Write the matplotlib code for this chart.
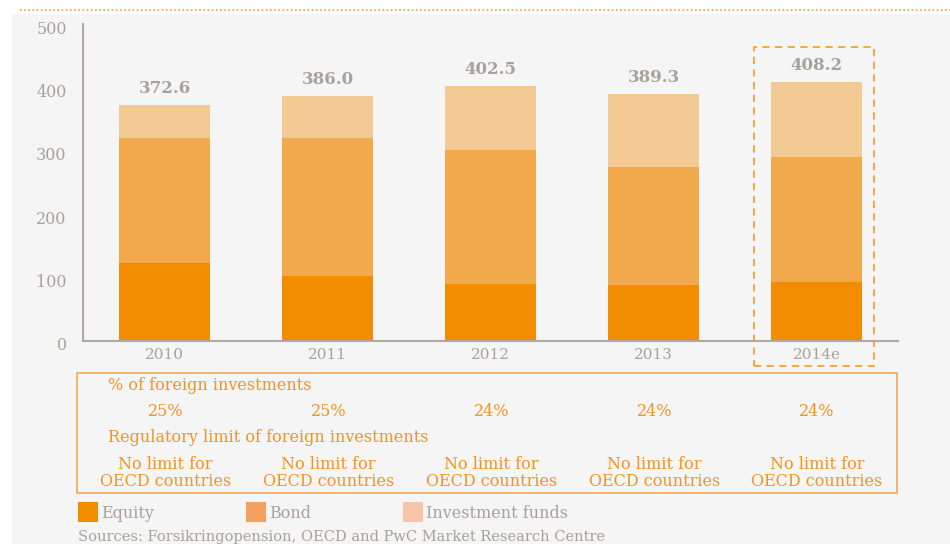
import matplotlib
matplotlib.use("Agg")
import matplotlib.pyplot as plt
import matplotlib.transforms as mtrans
from matplotlib.patches import Rectangle

years = ['2010', '2011', '2012', '2013', '2014e']
totals = [372.6, 386.0, 402.5, 389.3, 408.2]
equity = [122.6, 102.3, 90.3, 88.0, 93.0]
bond = [198.0, 217.4, 210.8, 187.0, 197.0]
funds = [52.0, 66.3, 101.4, 114.3, 118.2]
foreign_share = ['25%', '25%', '24%', '24%', '24%']
reg_limit = ['No limit for\nOECD countries'] * 5

W, H = 950, 544
bg = '#f5f5f5'
gray = '#a9a19b'
orange = '#f39322'
c_eq, c_bond, c_fund = '#f28c00', '#f2a94b', '#f4ca94'
leg_colors = ['#f28c00', '#f4a160', '#f8c5a8']
font = 'DejaVu Serif'

fig = plt.figure(figsize=(W / 100, H / 100), dpi=100)
fig.patch.set_facecolor('white')

def fx(px):
    return px / W

def fy(py):
    return 1 - py / H

# grey panel + dotted line at top
fig.patches.append(Rectangle((fx(12), 0), 1 - fx(12), fy(14), transform=fig.transFigure,
                             facecolor=bg, edgecolor='none', zorder=-5))
fig.add_artist(plt.Line2D([fx(20), 1], [fy(10), fy(10)], transform=fig.transFigure,
                          color='#f5a030', lw=1.2, ls=(0, (1, 1.5))))

ax = fig.add_axes([fx(83.3), fy(341), fx(898) - fx(83.3), fy(24) - fy(341)])
ax.set_zorder(1)
ax.set_facecolor('none')
x = range(len(years))
bw = 0.56
ax.bar(x, equity, bw, color=c_eq, zorder=2)
ax.bar(x, bond, bw, bottom=equity, color=c_bond, zorder=2)
bott = [e + b for e, b in zip(equity, bond)]
ax.bar(x, funds, bw, bottom=bott, color=c_fund, zorder=2)

for i, t in enumerate(totals):
    ax.annotate('%.1f' % t, (i, t), xytext=(0, 12), textcoords='offset points',
                ha='center', va='center', fontsize=12, fontweight='bold',
                color=gray, family=font)

ax.set_xlim(-0.5, 4.5)
ax.set_ylim(0, 500)
ax.set_yticks([0, 100, 200, 300, 400, 500])
ax.set_xticks(list(x))
ax.set_xticklabels(years)
for s in ['top', 'right']:
    ax.spines[s].set_visible(False)
for s in ['left', 'bottom']:
    ax.spines[s].set_color('#b0a8a2')
    ax.spines[s].set_linewidth(1.5)
    ax.spines[s].set_zorder(3)
ax.tick_params(length=0, colors=gray)
ax.tick_params(axis='y', pad=12, labelsize=11.5)
ax.tick_params(axis='x', pad=5, labelsize=11)
for lab in ax.get_xticklabels() + ax.get_yticklabels():
    lab.set_family(font)
# the reference draws its y labels a few pixels low
shift = mtrans.ScaledTranslation(0, -3 / 100, fig.dpi_scale_trans)
for lab in ax.get_yticklabels():
    lab.set_transform(lab.get_transform() + shift)

# dashed box round the estimate
fig.patches.append(Rectangle((fx(754), fy(366)), fx(874) - fx(754), fy(47) - fy(366),
                             transform=fig.transFigure, fill=False, edgecolor='#f5a030',
                             lw=1.3, ls=(0, (4, 3)), zorder=5))

# table box
fig.patches.append(Rectangle((fx(77), fy(493)), fx(897) - fx(77), fy(373) - fy(493),
                             transform=fig.transFigure, fill=False, edgecolor='#f5a850',
                             lw=1.2, zorder=5))
centers = [165.5, 328.4, 491.3, 654.2, 817]
fig.text(fx(108), fy(385), '% of foreign investments', color=orange, fontsize=11.5,
         family=font, va='center')
fig.text(fx(108), fy(437), 'Regulatory limit of foreign investments', color=orange,
         fontsize=11.5, family=font, va='center')
for cx, s, r in zip(centers, foreign_share, reg_limit):
    fig.text(fx(cx), fy(411), s, color=orange, fontsize=11.5, family=font,
             ha='center', va='center')
    fig.text(fx(cx), fy(473), r, color=orange, fontsize=11.5, family=font,
             ha='center', va='center', linespacing=0.95)

# legend
for lx, col, name in zip([78, 246, 403], leg_colors, ['Equity', 'Bond', 'Investment funds']):
    fig.patches.append(Rectangle((fx(lx), fy(522)), fx(20), fy(502) - fy(522),
                                 transform=fig.transFigure, facecolor=col,
                                 edgecolor='none'))
    fig.text(fx(lx + 23), fy(513), name, color=gray, fontsize=11.5, family=font,
             va='center')

fig.text(fx(78), fy(530), 'Sources: Forsikringopension, OECD and PwC Market Research Centre',
         color=gray, fontsize=10.5, family=font, va='top')

fig.savefig('out.png', dpi=100, facecolor=fig.get_facecolor())
